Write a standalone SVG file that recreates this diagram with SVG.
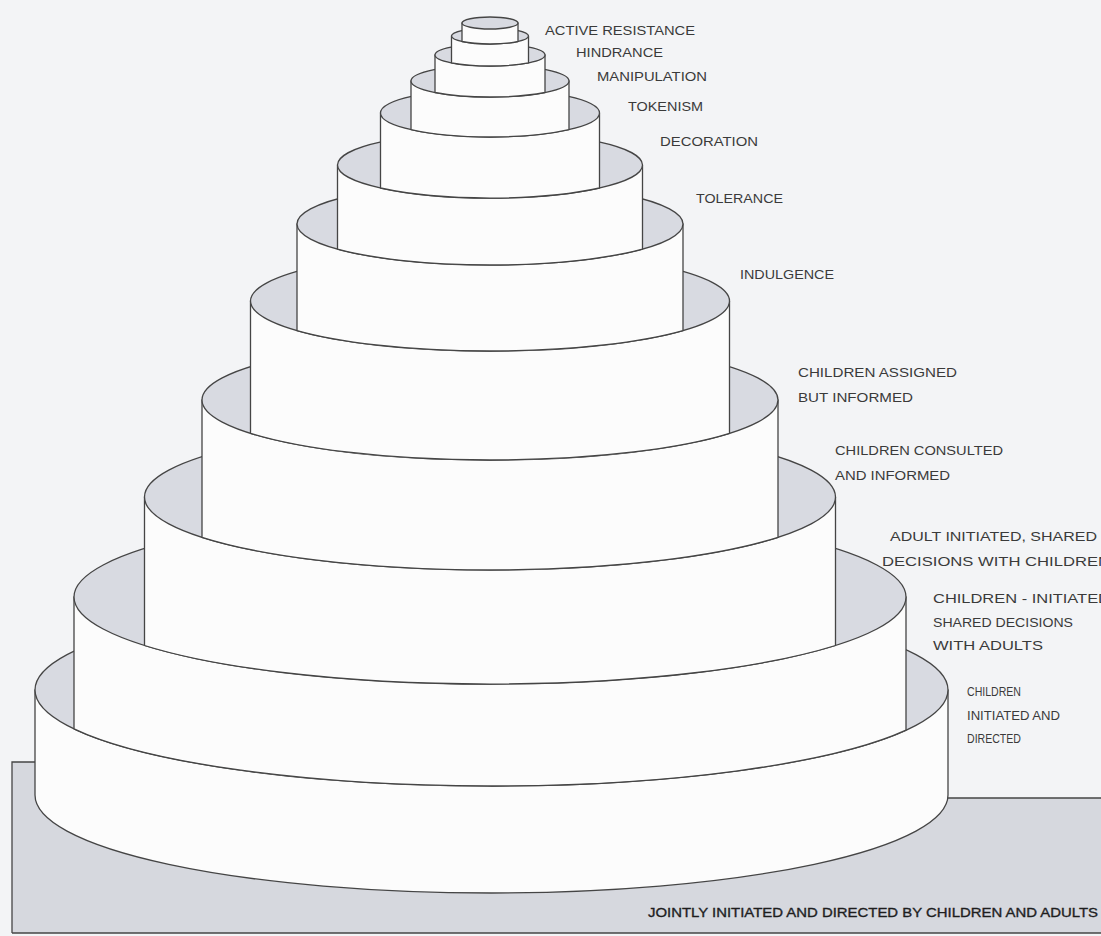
<svg xmlns="http://www.w3.org/2000/svg" width="1101" height="936" viewBox="0 0 1101 936">
<style>
.bg{fill:#f3f4f6}
.wall{fill:#fcfcfc;stroke:#454545;stroke-width:1.3;stroke-linejoin:round}
.top{fill:#d8dae1;stroke:#454545;stroke-width:1.3}
.base{fill:#d6d8de}
.edge{fill:none;stroke:#454545;stroke-width:1.3}
.lbl{font-family:"Liberation Sans",Arial,sans-serif;font-size:13.5px;fill:#3a3a3a}
.jt{font-family:"Liberation Sans",Arial,sans-serif;font-size:13.5px;fill:#1e1e1e;stroke:#1e1e1e;stroke-width:0.35}
</style>
<rect class="bg" x="0" y="0" width="1101" height="936"/>
<g id="base">
<path class="base" d="M12,762 H300 V798 H1101 V933 H12 Z"/>
<path class="edge" d="M12,933 V762 H40 M940,798 H1101 M12,933 H1101"/>
<text class="jt" x="648" y="917" textLength="450" lengthAdjust="spacingAndGlyphs">JOINTLY INITIATED AND DIRECTED BY CHILDREN AND ADULTS</text>
</g>
<g id="tier1">
<path class="wall" d="M35,690 L35,795 A456.5,98 0 0 0 948,795 L948,690 Z"/>
<ellipse class="top" cx="491.5" cy="690" rx="456.5" ry="96"/>
<text class="lbl" x="967" y="696" textLength="54" lengthAdjust="spacingAndGlyphs">CHILDREN</text>
<text class="lbl" x="967" y="720" textLength="93" lengthAdjust="spacingAndGlyphs">INITIATED AND</text>
<text class="lbl" x="967" y="743" textLength="54" lengthAdjust="spacingAndGlyphs">DIRECTED</text>
</g>
<g id="tier2">
<path class="wall" d="M74,597 L74,728.8 A456.5,96 0 0 0 906,730.2 L906,597 Z"/>
<ellipse class="top" cx="490" cy="597" rx="416" ry="87"/>
<text class="lbl" x="933" y="603" textLength="177" lengthAdjust="spacingAndGlyphs">CHILDREN - INITIATED</text>
<text class="lbl" x="933" y="627" textLength="140" lengthAdjust="spacingAndGlyphs">SHARED DECISIONS</text>
<text class="lbl" x="933" y="650" textLength="110" lengthAdjust="spacingAndGlyphs">WITH ADULTS</text>
</g>
<g id="tier3">
<path class="wall" d="M144.5,497 L144.5,645.5 A416,87 0 0 0 835.5,645.5 L835.5,497 Z"/>
<ellipse class="top" cx="490" cy="497" rx="345.5" ry="73"/>
<text class="lbl" x="890" y="541" textLength="207" lengthAdjust="spacingAndGlyphs">ADULT INITIATED, SHARED</text>
<text class="lbl" x="882" y="566" textLength="228" lengthAdjust="spacingAndGlyphs">DECISIONS WITH CHILDREN</text>
</g>
<g id="tier4">
<path class="wall" d="M202,400 L202,537.3 A345.5,73 0 0 0 778,537.3 L778,400 Z"/>
<ellipse class="top" cx="490" cy="400" rx="288" ry="60"/>
<text class="lbl" x="835" y="455" textLength="168" lengthAdjust="spacingAndGlyphs">CHILDREN CONSULTED</text>
<text class="lbl" x="835" y="480" textLength="115" lengthAdjust="spacingAndGlyphs">AND INFORMED</text>
</g>
<g id="tier5">
<path class="wall" d="M250.5,301 L250.5,433.3 A288,60 0 0 0 729.5,433.3 L729.5,301 Z"/>
<ellipse class="top" cx="490" cy="301" rx="239.5" ry="50"/>
<text class="lbl" x="798" y="377" textLength="159" lengthAdjust="spacingAndGlyphs">CHILDREN ASSIGNED</text>
<text class="lbl" x="798" y="402" textLength="115" lengthAdjust="spacingAndGlyphs">BUT INFORMED</text>
</g>
<g id="tier6">
<path class="wall" d="M297,224 L297,330.6 A239.5,50 0 0 0 683,330.6 L683,224 Z"/>
<ellipse class="top" cx="490" cy="224" rx="193" ry="41"/>
<text class="lbl" x="740" y="279" textLength="94" lengthAdjust="spacingAndGlyphs">INDULGENCE</text>
</g>
<g id="tier7">
<path class="wall" d="M337.5,165 L337.5,249.1 A193,41 0 0 0 642.5,249.1 L642.5,165 Z"/>
<ellipse class="top" cx="490" cy="165" rx="152.5" ry="33"/>
<text class="lbl" x="696" y="203" textLength="87" lengthAdjust="spacingAndGlyphs">TOLERANCE</text>
</g>
<g id="tier8">
<path class="wall" d="M380.5,113 L380.5,188 A152.5,33 0 0 0 599.5,188 L599.5,113 Z"/>
<ellipse class="top" cx="490" cy="113" rx="109.5" ry="24"/>
<text class="lbl" x="660" y="146" textLength="98" lengthAdjust="spacingAndGlyphs">DECORATION</text>
</g>
<g id="tier9">
<path class="wall" d="M411,81 L411,129.6 A109.5,24 0 0 0 569,129.6 L569,81 Z"/>
<ellipse class="top" cx="490" cy="81" rx="79" ry="16"/>
<text class="lbl" x="628" y="111" textLength="75" lengthAdjust="spacingAndGlyphs">TOKENISM</text>
</g>
<g id="tier10">
<path class="wall" d="M435,55 L435,92.5 A79,16 0 0 0 545,92.5 L545,55 Z"/>
<ellipse class="top" cx="490" cy="55" rx="55" ry="11"/>
<text class="lbl" x="597" y="81" textLength="110" lengthAdjust="spacingAndGlyphs">MANIPULATION</text>
</g>
<g id="tier11">
<path class="wall" d="M451.5,36 L451.5,62.86 A55,11 0 0 0 528.5,62.86 L528.5,36 Z"/>
<ellipse class="top" cx="490" cy="36" rx="38.5" ry="8"/>
<text class="lbl" x="576" y="57" textLength="87" lengthAdjust="spacingAndGlyphs">HINDRANCE</text>
</g>
<g id="tier12">
<path class="wall" d="M462,23 L462,41.5 A38.5,8 0 0 0 518,41.5 L518,23 Z"/>
<ellipse class="top" cx="490" cy="23" rx="28" ry="6"/>
<text class="lbl" x="545" y="35" textLength="150" lengthAdjust="spacingAndGlyphs">ACTIVE RESISTANCE</text>
</g>
<g id="connectors"/>
</svg>
